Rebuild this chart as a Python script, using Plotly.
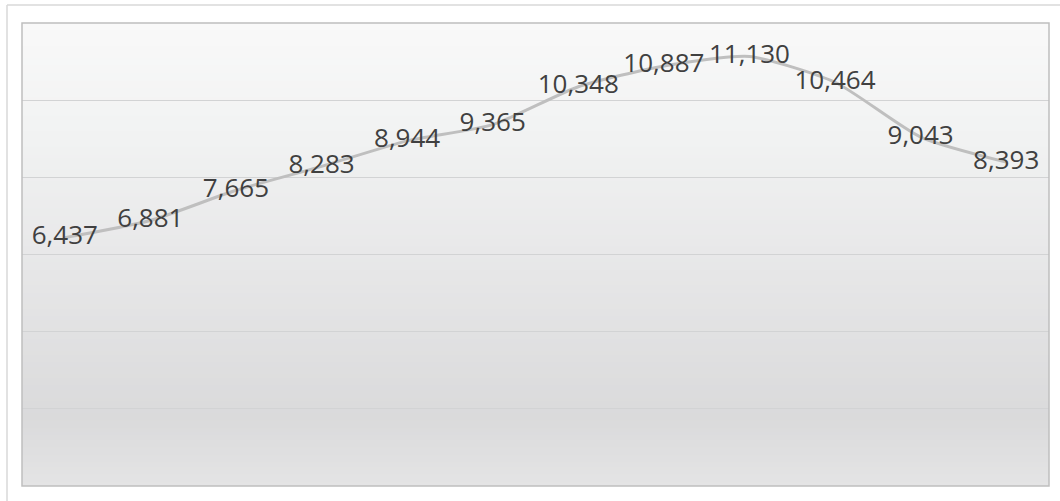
import plotly.graph_objects as go

categories = ["1", "2", "3", "4", "5", "6", "7", "8", "9", "10", "11", "12"]
values = [6437, 6881, 7665, 8283, 8944, 9365, 10348, 10887, 11130, 10464, 9043, 8393]
labels = [f"{v:,}" for v in values]

W, H = 1060, 501
L, R, T, B = 22, 11, 23, 15

fig = go.Figure()
fig.add_trace(go.Scatter(
    x=categories, y=values, mode="lines+text",
    text=labels, textposition="middle center",
    textfont=dict(family="Open Sans, Noto Sans, sans-serif", size=26, color="#404040"),
    line=dict(color="#bfbfbf", width=3, shape="spline", smoothing=0.6),
    hoverinfo="skip", cliponaxis=False,
))

def lerp(c1, c2, t):
    return tuple(int(round(a + (b - a) * t)) for a, b in zip(c1, c2))

stops = [(0.0, (249, 249, 249)), (0.25, (241, 242, 242)), (0.55, (230, 230, 231)),
         (0.85, (218, 218, 219)), (1.0, (228, 228, 229))]

def color_at(f):
    for i in range(len(stops) - 1):
        f0, c0 = stops[i]
        f1, c1 = stops[i + 1]
        if f0 <= f <= f1:
            return lerp(c0, c1, (f - f0) / (f1 - f0))
    return stops[-1][1]

shapes = []
N = 120
for i in range(N):
    f = (i + 0.5) / N
    c = color_at(f)
    shapes.append(dict(type="rect", xref="paper", yref="paper",
                       x0=0, x1=1, y0=max(0, 1 - (i + 1) / N - 0.004), y1=1 - i / N,
                       fillcolor="rgb(%d,%d,%d)" % c, line=dict(width=0), layer="below"))

pw = W - L - R
ph = H - T - B
shapes.append(dict(type="rect", xref="paper", yref="paper", x0=0, x1=1, y0=0, y1=1,
                   line=dict(color="#bfbfbf", width=1.5), fillcolor="rgba(0,0,0,0)", layer="above"))
ox = (7 - L) / pw
oy = 1 + (T - 5) / ph
shapes.append(dict(type="line", xref="paper", yref="paper", x0=ox, x1=ox, y0=oy, y1=-0.2,
                   line=dict(color="#d9d9d9", width=1.5)))
shapes.append(dict(type="line", xref="paper", yref="paper", x0=ox, x1=1.2, y0=oy, y1=oy,
                   line=dict(color="#d9d9d9", width=1.5)))

fig.update_layout(
    width=W, height=H,
    margin=dict(l=L, r=R, t=T, b=B),
    paper_bgcolor="white", plot_bgcolor="rgba(0,0,0,0)",
    showlegend=False, shapes=shapes,
    xaxis=dict(type="category", showgrid=False, showticklabels=False, zeroline=False,
               showline=False, ticks="", range=[-0.5, 11.5]),
    yaxis=dict(range=[0, 12000], dtick=2000, showgrid=True, gridcolor="#d2d3d4", gridwidth=1.2,
               showticklabels=False, zeroline=False, showline=False, ticks=""),
)

fig.write_html("out.html", config={"displayModeBar": False},
               post_script="document.body.style.margin='0';document.body.style.padding='0';")
